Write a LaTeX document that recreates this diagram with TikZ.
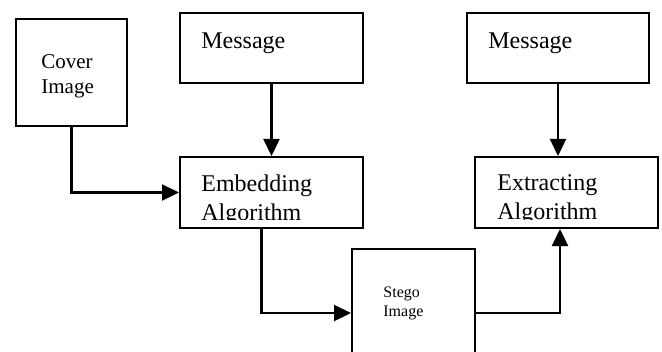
\documentclass[tikz,border=0pt]{standalone}
\usepackage{fontspec}
\setmainfont{Liberation Serif}
\usetikzlibrary{arrows.meta, positioning, calc}

\begin{document}
\begin{tikzpicture}[
    x=0.5pt, y=-0.5pt,
    box/.style={draw, line width=1pt, inner sep=0pt},
    txt/.style={anchor=north west, inner sep=0pt, align=left},
    arrow/.style={-{Triangle[length=8.5pt, width=8pt]}, line width=1.1pt}
]
    \useasboundingbox (0,0) rectangle (662,352);

    % Embedding side
    \node[box, minimum width=55.5pt, minimum height=53.5pt] (cover) at (71.5,72.5) {};
    \node[box, minimum width=91.5pt, minimum height=35pt] (msgA) at (271.5,48) {};
    \node[box, minimum width=91.5pt, minimum height=35.5pt] (embed) at (271.5,192.5) {};

    % Extracting side
    \node[box, minimum width=91pt, minimum height=35pt] (msgB) at (558,48) {};
    \node[box, minimum width=91.5pt, minimum height=35.5pt] (extract) at (566.5,192.5) {};

    % Stego image (runs off the bottom)
    \node[box, minimum width=61.5pt, minimum height=64pt] (stego) at (413.5,313) {};

    % Texts
    \node[txt, font=\fontsize{10.5}{12.5}\selectfont] (coverTxt) at (41,54) {Cover\\Image};
    \node[txt, font=\fontsize{12}{14.5}\selectfont] (msgATxt) at (201,32) {Message};
    \node[txt, font=\fontsize{12}{14.5}\selectfont] (msgBTxt) at (488,32) {Message};
    \begin{scope}
        % the algorithm texts are cut off by their boxes
        \clip (0,0) rectangle (662,219);
        \node[txt, font=\fontsize{12}{14.5}\selectfont] (embedTxt) at (201,174) {Embedding\\Algorithm};
        \node[txt, font=\fontsize{12}{14.5}\selectfont] (extractTxt) at (497,174) {Extracting\\Algorithm};
    \end{scope}
    \node[txt, font=\fontsize{8}{9.5}\selectfont] (stegoTxt) at (383,287) {Stego\\Image};

    % Connectors
    \draw[arrow] (cover.south) |- (embed.west);
    \draw[arrow] (msgA.south) -- (embed.north);
    \draw[arrow] (msgB.south) -- (msgB.south |- extract.north);
    \draw[arrow] ([xshift=-5pt]embed.south) |- (stego.west);
    \draw[arrow] (stego.east) -| ([xshift=-3.25pt]extract.south);
\end{tikzpicture}
\end{document}
